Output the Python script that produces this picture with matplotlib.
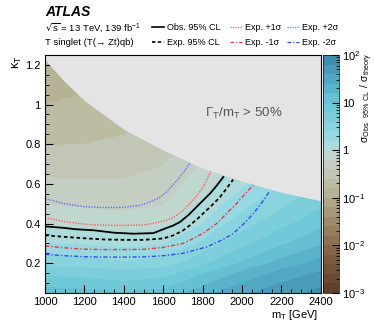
import numpy as np
import matplotlib
matplotlib.use("Agg")
import matplotlib.pyplot as plt
from matplotlib.colors import LogNorm, LinearSegmentedColormap
from matplotlib.ticker import MultipleLocator, FixedLocator, FuncFormatter

plt.rcParams['font.family'] = ['Liberation Sans', 'DejaVu Sans']
plt.rcParams['mathtext.default'] = 'regular'

# ratio map sigma_obs/sigma_theory, log10 values
grid_m = [1000, 1200, 1400, 1600, 1800, 2000, 2200, 2400]
grid_k = [0.05, 0.1, 0.2, 0.3, 0.4, 0.5, 0.6, 0.8, 1.0, 1.25]
log_ratio = [
    [1.10, 1.07, 1.02, 1.07, 1.30, 1.55, 1.72, 1.85],
    [0.90, 0.87, 0.82, 0.87, 1.13, 1.40, 1.60, 1.75],
    [0.50, 0.47, 0.42, 0.47, 0.73, 1.02, 1.26, 1.46],
    [0.20, 0.17, 0.12, 0.17, 0.43, 0.72, 0.96, 1.16],
    [-0.03, -0.06, -0.11, -0.06, 0.20, 0.49, 0.73, 0.93],
    [-0.22, -0.25, -0.27, -0.22, 0.02, 0.31, 0.54, 0.75],
    [-0.37, -0.38, -0.38, -0.33, -0.10, 0.16, 0.39, 0.59],
    [-0.61, -0.60, -0.57, -0.50, -0.32, -0.09, 0.15, 0.35],
    [-0.80, -0.77, -0.72, -0.62, -0.48, -0.28, -0.04, 0.16],
    [-0.98, -0.93, -0.86, -0.75, -0.62, -0.47, -0.24, -0.03],
]

# width limit Gamma/m > 50%
width_m = [1000, 1100, 1200, 1400, 1600, 1800, 2000, 2200, 2400]
width_k = [1.225, 1.115, 1.02, 0.875, 0.77, 0.68, 0.614, 0.558, 0.515]

obs_m = [1000, 1100, 1150, 1250, 1350, 1450, 1550, 1617, 1650, 1685, 1730, 1769, 1800, 1837, 1870, 1905]
obs_k = [0.386, 0.378, 0.372, 0.366, 0.354, 0.349, 0.352, 0.378, 0.39, 0.408, 0.445, 0.484, 0.515, 0.551, 0.59, 0.635]

exp_m = [1000, 1100, 1200, 1300, 1400, 1500, 1600, 1650, 1700, 1735, 1780, 1820, 1860, 1888, 1920, 1955]
exp_k = [0.341, 0.333, 0.326, 0.320, 0.318, 0.318, 0.325, 0.34, 0.365, 0.391, 0.43, 0.467, 0.505, 0.534, 0.575, 0.622]

p1_m = [1000, 1100, 1200, 1300, 1400, 1500, 1567, 1610, 1651, 1700, 1735, 1770, 1803, 1840]
p1_k = [0.430, 0.41, 0.397, 0.392, 0.391, 0.393, 0.405, 0.415, 0.43, 0.465, 0.501, 0.54, 0.585, 0.661]

p2_m = [1000, 1100, 1200, 1300, 1400, 1480, 1533, 1580, 1617, 1650, 1685, 1735]
p2_k = [0.526, 0.50, 0.485, 0.481, 0.482, 0.492, 0.509, 0.53, 0.56, 0.595, 0.635, 0.703]

m1_m = [1000, 1100, 1200, 1300, 1400, 1500, 1600, 1700, 1735, 1800, 1871, 1920, 1972, 2020, 2057]
m1_k = [0.287, 0.278, 0.271, 0.269, 0.269, 0.27, 0.28, 0.30, 0.316, 0.35, 0.40, 0.45, 0.501, 0.555, 0.593]

m2_m = [1000, 1100, 1200, 1300, 1400, 1500, 1600, 1700, 1820, 1900, 1955, 2010, 2057, 2100, 2141]
m2_k = [0.245, 0.238, 0.233, 0.231, 0.231, 0.232, 0.238, 0.25, 0.282, 0.318, 0.35, 0.40, 0.45, 0.505, 0.565]

cmap = LinearSegmentedColormap.from_list("atl", [
    (0.0, "#5a3b26"), (0.2, "#8a6a4a"), (0.4, "#b2ad8e"), (0.46, "#bcbca2"),
    (0.52, "#c4cabc"), (0.57, "#c4d4cc"), (0.6, "#b8dcd8"), (0.66, "#96d8e2"),
    (0.8, "#6ac6d8"), (0.9, "#52a8c4"), (1.0, "#3c88a8")])

fig = plt.figure(figsize=(3.74, 3.26), dpi=100)
ax = fig.add_axes([0.1203, 0.1012, 0.7377, 0.7301])
cax = fig.add_axes([0.8636, 0.1012, 0.0428, 0.7301])

M, K = np.meshgrid(grid_m, grid_k)
Z = 10 ** np.array(log_ratio)
levels = np.logspace(-3, 2, 26)
norm = LogNorm(1e-3, 1e2)
cf = ax.contourf(M, K, Z, levels=levels, cmap=cmap, norm=norm)

ax.fill_between(width_m, width_k, 1.3, color="#e4e4e4", zorder=3, lw=0)

ax.plot(obs_m, obs_k, color='k', lw=1.3, zorder=4)
ax.plot(exp_m, exp_k, color='k', lw=1.3, ls=(0, (2, 1.5)), zorder=4)
ax.plot(p1_m, p1_k, color='#ee6666', lw=1.0, ls=(0, (1, 1)), zorder=4)
ax.plot(m1_m, m1_k, color='#e83a3a', lw=1.0, ls=(0, (3, 1.5, 1, 1.5)), zorder=4)
ax.plot(p2_m, p2_k, color='#6670ee', lw=1.0, ls=(0, (1, 1)), zorder=4)
ax.plot(m2_m, m2_k, color='#2f4fee', lw=1.0, ls=(0, (3, 1.5, 1, 1.5)), zorder=4)

ax.set_xlim(1000, 2400)
ax.set_ylim(0.05, 1.25)
ax.xaxis.set_major_locator(MultipleLocator(200))
ax.xaxis.set_minor_locator(MultipleLocator(50))
ax.yaxis.set_major_locator(MultipleLocator(0.2))
ax.yaxis.set_minor_locator(MultipleLocator(0.05))
ax.yaxis.set_major_formatter(FuncFormatter(lambda v, p: f"{v:g}"))
ax.tick_params(which='both', direction='in', labelsize=8, pad=3)
ax.tick_params(which='major', length=6)
ax.tick_params(which='minor', length=3)
ax.set_axisbelow(False)
for s in ax.spines.values():
    s.set_zorder(5)
    s.set_linewidth(0.8)

ax.text(2010, 0.94, "Γ$_T$/m$_T$ > 50%", fontsize=9.5, color="#555555", ha='center', zorder=6)

fig.text(0.03, 0.83, r"$\kappa_T$", rotation=90, ha='left', va='top', fontsize=9)
fig.text(0.850, 0.056, r"m$_T$ [GeV]", ha='right', va='top', fontsize=8)

cb = fig.colorbar(cf, cax=cax)
cax.set_yscale('log')
cax.set_ylim(1e-3, 1e2)
cax.yaxis.set_major_locator(FixedLocator([1e-3, 1e-2, 1e-1, 1, 10, 100]))
labs = {1e-3: "$10^{-3}$", 1e-2: "$10^{-2}$", 1e-1: "$10^{-1}$", 1: "1", 10: "10", 100: "$10^{2}$"}
cax.yaxis.set_major_formatter(FuncFormatter(lambda v, p: labs.get(round(v, 6), "")))
minors = [k * 10.0 ** e for e in range(-3, 2) for k in range(2, 10)]
cax.yaxis.set_minor_locator(FixedLocator(minors))
cax.yaxis.set_minor_formatter(FuncFormatter(lambda v, p: ""))
cax.tick_params(which='both', direction='in', labelsize=8, left=False, right=True, pad=2)
cax.tick_params(which='major', length=5)
cax.tick_params(which='minor', length=2.5)
cb.outline.set_linewidth(0.5)
fig.text(0.958, 0.84, r"$\sigma_{Obs.\ 95\%\ CL}\ /\ \sigma_{theory}$", rotation=90,
         ha='left', va='top', fontsize=7.5)

# header
fig.text(0.12, 0.962, "ATLAS", fontsize=10, fontweight='bold', style='italic', va='center')
fig.text(0.12, 0.915, r"$\sqrt{s}$ = 13 TeV, 139 fb$^{-1}$", fontsize=6.8, va='center')
fig.text(0.12, 0.871, "T singlet (T(→ Zt)qb)", fontsize=6.8, va='center')

leg = [
    (0.406, 0.917, dict(color='k', lw=1.2), "Obs. 95% CL"),
    (0.406, 0.871, dict(color='k', lw=1.2, ls=(0, (2, 1.5))), "Exp. 95% CL"),
    (0.615, 0.917, dict(color='#ee6666', lw=0.9, ls=(0, (1, 1))), "Exp. +1σ"),
    (0.615, 0.871, dict(color='#e83a3a', lw=0.9, ls=(0, (3, 1.5, 1, 1.5))), "Exp. -1σ"),
    (0.767, 0.917, dict(color='#6670ee', lw=0.9, ls=(0, (1, 1))), "Exp. +2σ"),
    (0.767, 0.871, dict(color='#2f4fee', lw=0.9, ls=(0, (3, 1.5, 1, 1.5))), "Exp. -2σ"),
]
for x, y, st, lab in leg:
    fig.add_artist(plt.Line2D([x, x + 0.033], [y, y], transform=fig.transFigure, **st))
    fig.text(x + 0.04, y, lab, fontsize=6.5, va='center')

fig.savefig("out.png", dpi=100)
